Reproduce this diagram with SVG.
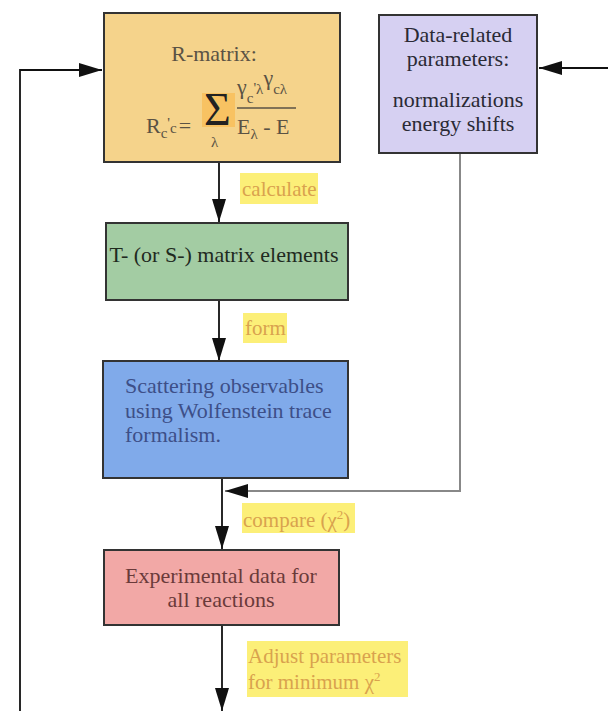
<svg xmlns="http://www.w3.org/2000/svg" width="608" height="711" viewBox="0 0 608 711">
<defs>
<marker id="ah" markerUnits="userSpaceOnUse" markerWidth="24" markerHeight="14" refX="23" refY="7" orient="auto">
<path d="M0,0 L23,7 L0,14 z" fill="#111"/>
</marker>
</defs>
<style>
text{font-family:'Liberation Serif','DejaVu Serif',serif;font-size:22px}
.box{stroke:#333;stroke-width:2}
.lbl{fill:#d9a24e;font-size:21px}
.hl{fill:#fcef78}
.ln{fill:none;stroke:#111;stroke-width:1.8}
.gl{fill:none;stroke:#888;stroke-width:2}
.sub{font-size:15px}
.sig{font-size:46px}
</style>
<rect width="608" height="711" fill="#fff"/>
<g id="connectors">
<line class="ln" x1="219" y1="162" x2="219" y2="222" marker-end="url(#ah)"/>
<line class="ln" x1="219" y1="300" x2="219" y2="361" marker-end="url(#ah)"/>
<line class="ln" x1="222" y1="478" x2="222" y2="549" marker-end="url(#ah)"/>
<line class="ln" x1="222" y1="625" x2="222" y2="711" marker-end="url(#ah)"/>
<polyline class="ln" points="20,711 20,70 102,70" marker-end="url(#ah)"/>
<line class="ln" x1="608" y1="68" x2="539" y2="68" marker-end="url(#ah)"/>
<polyline class="gl" points="460,153 460,491 225,491" marker-end="url(#ah)"/>
</g>
<g id="labels">
<rect class="hl" x="240" y="173" width="78" height="31"/>
<text class="lbl" x="242" y="196">calculate</text>
<rect class="hl" x="243" y="313" width="44" height="30"/>
<text class="lbl" x="245" y="335">form</text>
<rect class="hl" x="242" y="503" width="113" height="30"/>
<text class="lbl" x="243" y="527">compare (χ<tspan dy="-8" font-size="13">2</tspan><tspan dy="8">)</tspan></text>
<rect class="hl" x="247" y="641" width="161" height="56"/>
<text class="lbl" x="248" y="663">Adjust parameters</text>
<text class="lbl" x="248" y="689">for minimum χ<tspan dy="-8" font-size="13">2</tspan></text>
</g>
<g id="rmatrix">
<rect class="box" x="104" y="13" width="236" height="149" fill="#f5d38b"/>
<text x="214" y="61" text-anchor="middle" fill="#5a5244">R-matrix:</text>
<text x="146" y="133" fill="#5a5244">R<tspan class="sub" dy="5">c</tspan><tspan class="sub" dy="-10">'</tspan><tspan class="sub" dy="5">c</tspan><tspan dx="2" dy="0">=</tspan></text>
<rect x="202" y="93" width="33" height="34" fill="#f8c262"/>
<text x="204" y="125" class="sig" fill="#222">Σ</text>
<text x="211" y="147" class="sub" fill="#5a5244">λ</text>
<text x="237" y="94" fill="#5a5244">γ<tspan class="sub" dy="9">c</tspan><tspan class="sub" dy="-10">'</tspan><tspan class="sub" dy="1">λ</tspan><tspan dy="-9">γ</tspan><tspan class="sub" dy="9">cλ</tspan></text>
<line x1="237" y1="108" x2="296" y2="108" stroke="#5a5244" stroke-width="1.6"/>
<text x="237" y="134" fill="#5a5244">E<tspan class="sub" dy="5">λ</tspan><tspan dy="-5"> - E</tspan></text>
</g>
<g id="dataparams">
<rect class="box" x="379" y="15" width="158" height="138" fill="#d6d0f2" stroke="#555"/>
<text x="458" y="42" text-anchor="middle" fill="#2a2a35">Data-related</text>
<text x="458" y="66" text-anchor="middle" fill="#2a2a35">parameters:</text>
<text x="458" y="107" text-anchor="middle" fill="#2a2a35">normalizations</text>
<text x="458" y="131" text-anchor="middle" fill="#2a2a35">energy shifts</text>
</g>
<g id="tmatrix">
<rect class="box" x="106" y="223" width="242" height="77" fill="#a3cca3"/>
<text x="224" y="262" text-anchor="middle" fill="#1f2a1f">T- (or S-) matrix elements</text>
</g>
<g id="scattering">
<rect class="box" x="103" y="361" width="245" height="117" fill="#80aaea"/>
<text x="125" y="393" fill="#3d4f88">Scattering observables</text>
<text x="125" y="418" fill="#3d4f88">using Wolfenstein trace</text>
<text x="125" y="442" fill="#3d4f88">formalism.</text>
</g>
<g id="expdata">
<rect class="box" x="104" y="550" width="235" height="75" fill="#f2a8a6"/>
<text x="221" y="583" text-anchor="middle" fill="#6a3a3a">Experimental data for</text>
<text x="221" y="607" text-anchor="middle" fill="#6a3a3a">all reactions</text>
</g>
</svg>
